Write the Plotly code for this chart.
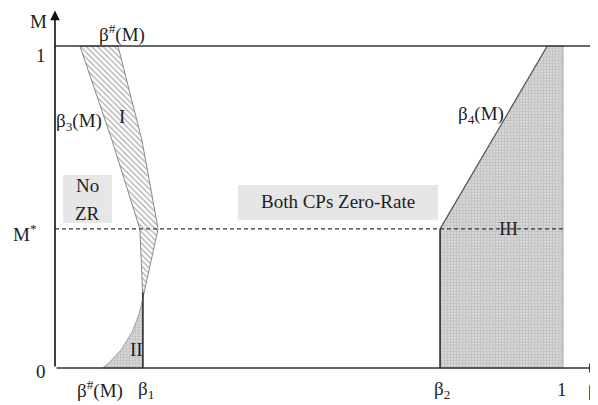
import plotly.graph_objects as go

# ---- data (beta on x, M on y) ----
M_STAR = 0.432
BETA_1 = 0.173
BETA_2 = 0.758
BETA_HASH_0 = 0.094

# Region I: left boundary beta3(M) (top -> bottom), right boundary beta#(M) (bottom -> top)
beta3_x = [0.049, 0.112, 0.167, 0.173]
beta3_M = [1.0, 0.708, 0.432, 0.217]
betahash_up_x = [0.173, 0.203, 0.171, 0.124]
betahash_up_M = [0.217, 0.432, 0.708, 1.0]

# Region II: lower part of beta#(M) curve
betahash_low_x = [0.094, 0.108, 0.130, 0.152, 0.165, 0.173]
betahash_low_M = [0.0, 0.019, 0.056, 0.112, 0.165, 0.217]

# Region III: beta4(M) line
beta4_x = [0.758, 0.969]
beta4_M = [0.432, 1.0]

x_tick_labels = ["β<sup>#</sup>(M)", "β<sub>1</sub>", "β<sub>2</sub>", "1"]
x_tick_pos = [0.089, 0.179, 0.762, 0.998]
y_tick_labels = ["1", "M<sup>*</sup>", "0"]
y_tick_pos = [0.972, 0.419, -0.012]

FONT = "Liberation Serif"
TXT = "#1e1e1e"
PAT = dict(shape=".", size=3, solidity=0.45, fgcolor="#a0a0a0", bgcolor="#dadada")

fig = go.Figure()

# Region I (hatched)
fig.add_trace(go.Scatter(
    x=beta3_x + betahash_up_x + [beta3_x[0]],
    y=beta3_M + betahash_up_M + [beta3_M[0]],
    mode="lines", fill="toself",
    line=dict(color="#8a8a8a", width=1),
    fillcolor="white",
    fillpattern=dict(shape="\\", size=4, solidity=0.3, fgcolor="#555555", bgcolor="white"),
    hoverinfo="skip", showlegend=False))

# Region II (dotted gray)
fig.add_trace(go.Scatter(
    x=betahash_low_x + [BETA_1, betahash_low_x[0]],
    y=betahash_low_M + [0.0, 0.0],
    mode="lines", fill="toself",
    line=dict(color="#a0a0a0", width=1),
    fillcolor="#d0d0d0", fillpattern=PAT,
    hoverinfo="skip", showlegend=False))

# Region III (dotted gray)
fig.add_trace(go.Scatter(
    x=[BETA_2] + beta4_x + [1.0, 1.0, BETA_2],
    y=[0.0] + beta4_M + [1.0, 0.0, 0.0],
    mode="lines", fill="toself",
    line=dict(color="#a8a8a8", width=1),
    fillcolor="#d0d0d0", fillpattern=PAT,
    hoverinfo="skip", showlegend=False))

# beta4 line (darker)
fig.add_trace(go.Scatter(x=beta4_x, y=beta4_M, mode="lines",
                         line=dict(color="#5a5a5a", width=1.2), hoverinfo="skip", showlegend=False))
# beta2 vertical line
fig.add_trace(go.Scatter(x=[BETA_2, BETA_2], y=[0, M_STAR], mode="lines",
                         line=dict(color="#333333", width=1.6), hoverinfo="skip", showlegend=False))
# beta1 vertical line
fig.add_trace(go.Scatter(x=[BETA_1, BETA_1], y=[0, 0.235], mode="lines",
                         line=dict(color="#333333", width=1.6), hoverinfo="skip", showlegend=False))

shapes = [
    # M = 1 line
    dict(type="line", x0=0, x1=1.09, y0=1, y1=1, line=dict(color="#333333", width=1.5), layer="above"),
    # M* dashed
    dict(type="line", x0=0, x1=1.0, y0=M_STAR, y1=M_STAR, line=dict(color="#333333", width=1.2, dash="4px,3px"), layer="above"),
    # boxes
    dict(type="rect", x0=0.016, x1=0.112, y0=0.450, y1=0.599, fillcolor="#e6e6e6", line=dict(width=0), layer="below"),
    dict(type="rect", x0=0.360, x1=0.754, y0=0.460, y1=0.568, fillcolor="#e6e6e6", line=dict(width=0), layer="below"),
]

ann = []
# axes with arrows
ann.append(dict(x=0, y=1.11, ax=0, ay=0, xref="x", yref="y", axref="x", ayref="y",
                showarrow=True, arrowhead=2, arrowsize=1.2, arrowwidth=1.6, arrowcolor="#111111", text=""))
ann.append(dict(x=1.07, y=0, ax=0, ay=0, xref="x", yref="y", axref="x", ayref="y",
                showarrow=True, arrowhead=2, arrowsize=1.2, arrowwidth=1.6, arrowcolor="#333333", text=""))

def lab(x, y, t, size=19, xanchor="center"):
    ann.append(dict(x=x, y=y, text=t, showarrow=False, xref="x", yref="y",
                    xanchor=xanchor, yanchor="middle", font=dict(family=FONT, size=size, color=TXT)))

lab(-0.033, 1.075, "M")
for t, p in zip(y_tick_labels, y_tick_pos):
    lab(-0.028 if t != "M<sup>*</sup>" else -0.059, p, t)
for t, p in zip(x_tick_labels, x_tick_pos):
    lab(p, -0.068, t)
lab(1.046, -0.068, "β", xanchor="left")

lab(0.132, 1.04, "β<sup>#</sup>(M)")
lab(0.047, 0.764, "β<sub>3</sub>(M)")
lab(0.132, 0.780, "I")
lab(0.839, 0.786, "β<sub>4</sub>(M)")
lab(0.161, 0.056, "II")
lab(0.892, 0.432, "III")
lab(0.064, 0.568, "No")
lab(0.064, 0.480, "ZR")
lab(0.557, 0.516, "Both CPs Zero-Rate")

# page has an 8px body margin; ranges compensate so marks land where the reference has them
fig.update_layout(
    width=598, height=405,
    margin=dict(l=0, r=0, t=0, b=0),
    paper_bgcolor="white", plot_bgcolor="white",
    xaxis=dict(range=[-0.0925, 1.0846], visible=False, fixedrange=True),
    yaxis=dict(range=[-0.1398, 1.118], visible=False, fixedrange=True),
    shapes=shapes, annotations=ann, showlegend=False,
)

fig.write_html("out.html")
